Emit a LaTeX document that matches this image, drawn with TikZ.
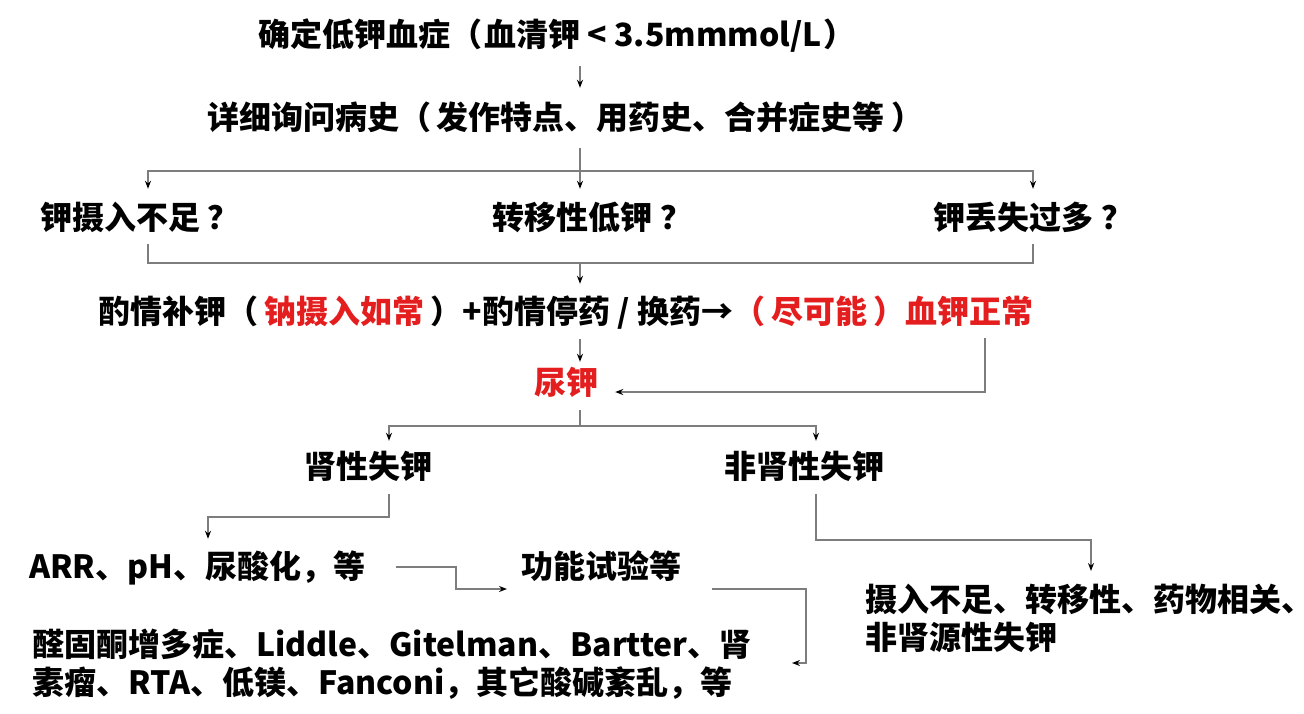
\documentclass[tikz,border=0pt]{standalone}
\usepackage{fontspec}
\setmainfont{Noto Sans CJK SC}
\usetikzlibrary{arrows.meta}
\definecolor{kred}{RGB}{228,30,30}
\definecolor{kline}{RGB}{125,125,125}
\newcommand{\pgap}{\hspace{6pt}}
\begin{document}
\begin{tikzpicture}[x=1pt,y=-1pt,
  txt/.style={inner sep=0pt, text height=27pt, text depth=5pt, font=\fontsize{32}{38}\selectfont\bfseries},
  para/.style={inner sep=0pt, align=left, font=\fontsize{32}{38}\selectfont\bfseries},
  ln/.style={draw=kline, line width=1.3pt},
  arr/.style={ln, -{Stealth[length=8pt,width=6pt,color=black]}}]
\useasboundingbox[fill=white] (0,0) rectangle (1304,713);
% text nodes
\node[txt] (n1) at (557,35) {确定低钾血症（\hspace{2pt}血清钾 < 3.5mmmol/L\hspace{2pt}）};
\node[txt] (n2) at (565,118) {详细询问病史（\pgap 发作特点、用药史、合并症史等\pgap）};
\node[txt] (n3a) at (140,218) {钾摄入不足\hspace{8pt}？};
\node[txt] (n3b) at (592,218) {转移性低钾\hspace{8pt}？};
\node[txt] (n3c) at (1033,218) {钾丢失过多\hspace{8pt}？};
\node[txt] (n4) at (566,312) {酌情补钾（\pgap\textcolor{kred}{钠摄入如常}\pgap）+酌情停药 / 换药→\textcolor{kred}{（\pgap 尽可能\pgap）血钾正常}};
\node[txt,text=kred] (n5) at (566,383) {尿钾};
\node[txt] (n6a) at (368,467) {肾性失钾};
\node[txt] (n6b) at (804,467) {非肾性失钾};
\node[txt,anchor=west] (n7a) at (29,567) {ARR、pH、尿酸化，等};
\node[txt,anchor=west] (n7b) at (521,567) {功能试验等};
\node[para,anchor=north west] (n8) at (32,629) {醛固酮增多症、Liddle、Gitelman、Bartter、肾\\素瘤、RTA、低镁、Fanconi，其它酸碱紊乱，等};
\node[para,anchor=north west] (n9) at (865,584) {摄入不足、转移性、药物相关、\kern-18pt\\非肾源性失钾};
% helper coordinates
\coordinate (cx) at (580,0);
\coordinate (xl) at (148,0);
\coordinate (xr) at (1033,0);
\coordinate (xf) at (985,0);
\coordinate (xa) at (389,0);
\coordinate (xb) at (816,0);
\coordinate (j1) at (580,171);
\coordinate (j2) at (580,263);
\coordinate (j3) at (580,426);
\coordinate (k1) at (208,517);
\coordinate (k2) at (1091,540);
\coordinate (k3) at (456,589);
\coordinate (k4) at (806,663);
% connectors
\draw[arr, shorten <=15pt, shorten >=14pt] (n1.south -| cx) -- (n2.north -| cx);
\draw[ln, shorten <=14pt] (n2.south -| cx) -- (j1);
\draw[arr, shorten >=13pt] (j1) -- (n3b.north -| cx);
\draw[arr, shorten >=13pt] (j1) -| (n3a.north -| xl);
\draw[arr, shorten >=13pt] (j1) -| (n3c.north -| xr);
\draw[ln, shorten <=10pt, shorten >=10pt] (n3a.south -| xl) |- (j2) -| (n3c.south -| xr);
\draw[arr, shorten >=12pt] (j2) -- (n4.north -| cx);
\draw[arr, shorten <=11pt, shorten >=5pt] (n4.south -| cx) -- (n5.north -| cx);
\draw[arr, shorten <=10pt, shorten >=17pt] (n4.south -| xf) |- ([yshift=-9pt]n5.east);
\draw[ln, shorten <=11pt] (n5.south -| cx) -- (j3);
\draw[arr, shorten >=10pt] (j3) -| (n6a.north -| xa);
\draw[arr, shorten >=10pt] (j3) -| (n6b.north -| xb);
\draw[arr, shorten <=11pt, shorten >=12pt] (n6a.south -| xa) |- (k1) -- (n7a.north -| k1);
\draw[arr, shorten <=11pt, shorten >=13pt] (n6b.south -| xb) |- (k2) -- (n9.north -| k2);
\draw[arr, shorten <=30pt, shorten >=14pt] (n7a.east) -| (k3) -- (n7b.west |- k3);
\draw[arr, shorten <=31pt, shorten >=40pt] (n7b.east |- k3) -| (k4) -- (n8.east |- k4);
\end{tikzpicture}
\end{document}
